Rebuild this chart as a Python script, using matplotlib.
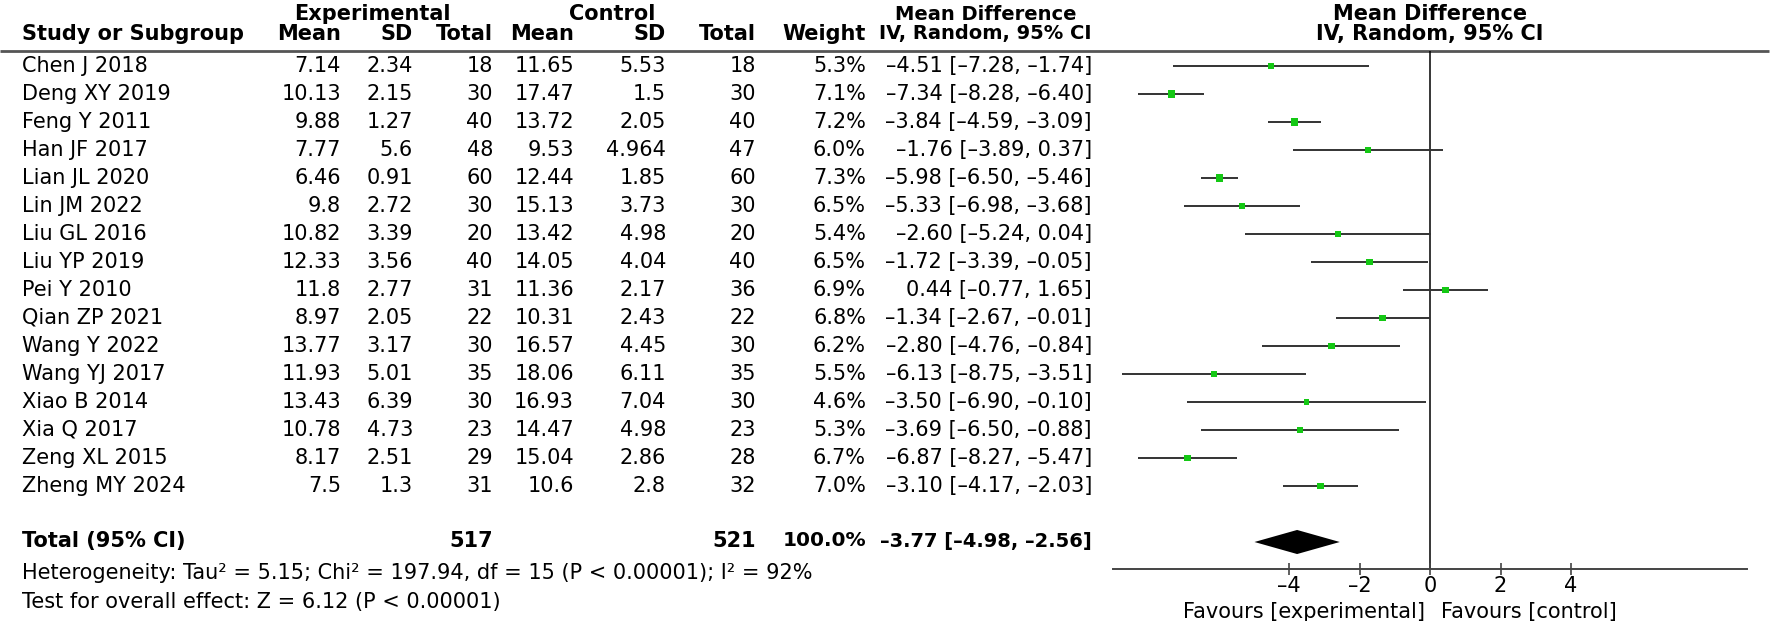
import numpy as np
import matplotlib
matplotlib.use('Agg')
import matplotlib.pyplot as plt
from matplotlib.ticker import FuncFormatter

# study data
names = ["Chen J 2018", "Deng XY 2019", "Feng Y 2011", "Han JF 2017", "Lian JL 2020",
         "Lin JM 2022", "Liu GL 2016", "Liu YP 2019", "Pei Y 2010", "Qian ZP 2021",
         "Wang Y 2022", "Wang YJ 2017", "Xiao B 2014", "Xia Q 2017", "Zeng XL 2015",
         "Zheng MY 2024"]
exp_mean = [7.14, 10.13, 9.88, 7.77, 6.46, 9.8, 10.82, 12.33, 11.8, 8.97, 13.77, 11.93, 13.43, 10.78, 8.17, 7.5]
exp_sd = [2.34, 2.15, 1.27, 5.6, 0.91, 2.72, 3.39, 3.56, 2.77, 2.05, 3.17, 5.01, 6.39, 4.73, 2.51, 1.3]
exp_n = [18, 30, 40, 48, 60, 30, 20, 40, 31, 22, 30, 35, 30, 23, 29, 31]
ctl_mean = [11.65, 17.47, 13.72, 9.53, 12.44, 15.13, 13.42, 14.05, 11.36, 10.31, 16.57, 18.06, 16.93, 14.47, 15.04, 10.6]
ctl_sd = [5.53, 1.5, 2.05, 4.964, 1.85, 3.73, 4.98, 4.04, 2.17, 2.43, 4.45, 6.11, 7.04, 4.98, 2.86, 2.8]
ctl_n = [18, 30, 40, 47, 60, 30, 20, 40, 36, 22, 30, 35, 30, 23, 28, 32]
weight = [5.3, 7.1, 7.2, 6.0, 7.3, 6.5, 5.4, 6.5, 6.9, 6.8, 6.2, 5.5, 4.6, 5.3, 6.7, 7.0]
md = [-4.51, -7.34, -3.84, -1.76, -5.98, -5.33, -2.60, -1.72, 0.44, -1.34, -2.80, -6.13, -3.50, -3.69, -6.87, -3.10]
lo = [-7.28, -8.28, -4.59, -3.89, -6.50, -6.98, -5.24, -3.39, -0.77, -2.67, -4.76, -8.75, -6.90, -6.50, -8.27, -4.17]
hi = [-1.74, -6.40, -3.09, 0.37, -5.46, -3.68, 0.04, -0.05, 1.65, -0.01, -0.84, -3.51, -0.10, -0.88, -5.47, -2.03]

# pooled result
tot_exp_n = 517
tot_ctl_n = 521
tot_weight = 100.0
tot_md = -3.77
tot_lo = -4.98
tot_hi = -2.56

xticks = [-4, -2, 0, 2, 4]
het_text = "Heterogeneity: Tau\u00b2 = 5.15; Chi\u00b2 = 197.94, df = 15 (P < 0.00001); I\u00b2 = 92%"
test_text = "Test for overall effect: Z = 6.12 (P < 0.00001)"

plt.rcParams['font.family'] = ['DejaVu Sans']
fs = 15
W, H = 1772, 621
row0, step = 66, 28      # pixel y of first study row and spacing


def fmt(v):
    return f"{v:.2f}".replace('-', '\u2013')


def ci_text(m, a, b):
    return f"{fmt(m)} [{fmt(a)}, {fmt(b)}]"


def to_row(px):
    return (px - row0) / step


fig = plt.figure(figsize=(W / 100, H / 100), dpi=100)

# table part, x in pixels, y in row units
tab = fig.add_axes([0, 0, 1, 1])
tab.set_xlim(0, W)
tab.set_ylim(to_row(H), to_row(0))
tab.axis('off')

cols = {'mean1': 341, 'sd1': 413, 'n1': 493, 'mean2': 574, 'sd2': 666, 'n2': 756,
        'w': 866, 'ci': 1092}
name_x = 22

# headers
h1 = to_row(14)
h2 = to_row(34)
tab.text(372, h1, "Experimental", ha='center', va='center', fontsize=fs, fontweight='bold')
tab.text(612, h1, "Control", ha='center', va='center', fontsize=fs, fontweight='bold')
tab.text(986, h1, "Mean Difference", ha='center', va='center', fontsize=14, fontweight='bold')
tab.text(name_x, h2, "Study or Subgroup", ha='left', va='center', fontsize=fs, fontweight='bold')
for key, lab in [('mean1', 'Mean'), ('sd1', 'SD'), ('n1', 'Total'), ('mean2', 'Mean'),
                 ('sd2', 'SD'), ('n2', 'Total'), ('w', 'Weight')]:
    tab.text(cols[key], h2, lab, ha='right', va='center', fontsize=fs, fontweight='bold')
tab.text(cols['ci'], h2, "IV, Random, 95% CI", ha='right', va='center', fontsize=14,
         fontweight='bold')

# header rule across the whole width
tab.plot([0, 1769], [to_row(51), to_row(51)], color='#555555', lw=2.0, solid_capstyle='butt')

# study rows
for i in range(len(names)):
    y = i
    tab.text(name_x, y, names[i], ha='left', va='center', fontsize=fs)
    vals = [f"{exp_mean[i]:g}", f"{exp_sd[i]:g}", str(exp_n[i]), f"{ctl_mean[i]:g}",
            f"{ctl_sd[i]:g}", str(ctl_n[i]), f"{weight[i]:.1f}%", ci_text(md[i], lo[i], hi[i])]
    for key, v in zip(['mean1', 'sd1', 'n1', 'mean2', 'sd2', 'n2', 'w', 'ci'], vals):
        tab.text(cols[key], y, v, ha='right', va='center', fontsize=fs)

# total row
yt = to_row(541)
tab.text(name_x, yt, "Total (95% CI)", ha='left', va='center', fontsize=fs, fontweight='bold')
tab.text(cols['n1'], yt, str(tot_exp_n), ha='right', va='center', fontsize=fs, fontweight='bold')
tab.text(cols['n2'], yt, str(tot_ctl_n), ha='right', va='center', fontsize=fs, fontweight='bold')
tab.text(cols['w'], yt, f"{tot_weight:.1f}%", ha='right', va='center', fontsize=14.5,
         fontweight='bold')
tab.text(cols['ci'], yt, ci_text(tot_md, tot_lo, tot_hi), ha='right', va='center',
         fontsize=14, fontweight='bold')
tab.text(name_x, to_row(573), het_text, ha='left', va='center', fontsize=fs)
tab.text(name_x, to_row(602), test_text, ha='left', va='center', fontsize=fs)

# forest part: x=0 at pixel 1430, 35.25 px per unit, axis from -9 to 9
x0px, ppu = 1430, 35.25
left_px = x0px - 9 * ppu
top_px, bot_px = 51, 569
ax = fig.add_axes([left_px / W, 1 - bot_px / H, 18 * ppu / W, (bot_px - top_px) / H])
ax.set_xlim(-9, 9)
ax.set_ylim(to_row(bot_px), to_row(top_px))
ax.patch.set_alpha(0)
for s in ['left', 'right', 'top']:
    ax.spines[s].set_visible(False)
ax.spines['bottom'].set_color('#444444')
ax.spines['bottom'].set_linewidth(1.4)
ax.set_yticks([])
ax.set_xticks(xticks)
ax.xaxis.set_major_formatter(FuncFormatter(lambda v, p: f"{v:g}".replace('-', '\u2013')))
ax.tick_params(axis='x', direction='inout', length=8, width=1.2, color='#444444',
               labelsize=fs, pad=1)

ax.axvline(0, color='black', lw=1.1, zorder=1)

rows = np.arange(len(names))
ax.hlines(rows, lo, hi, color='#333333', lw=1.4, zorder=2)
ax.scatter(md, rows, marker='s', s=np.array(weight) * 3.6, color='#14c814', zorder=3, linewidths=0)

# pooled diamond
yd = to_row(542)
ax.fill([tot_lo, tot_md, tot_hi, tot_md], [yd, yd - 0.43, yd, yd + 0.43], color='black',
        lw=0, zorder=3)

# panel headers and favours labels
ax.text(0, h1, "Mean Difference", ha='center', va='center', fontsize=fs, fontweight='bold')
ax.text(0, h2, "IV, Random, 95% CI", ha='center', va='center', fontsize=fs, fontweight='bold')
ax.text(-0.15, to_row(612), "Favours [experimental]", ha='right', va='center', fontsize=fs)
ax.text(0.3, to_row(612), "Favours [control]", ha='left', va='center', fontsize=fs)

fig.savefig('out.png', dpi=100)
